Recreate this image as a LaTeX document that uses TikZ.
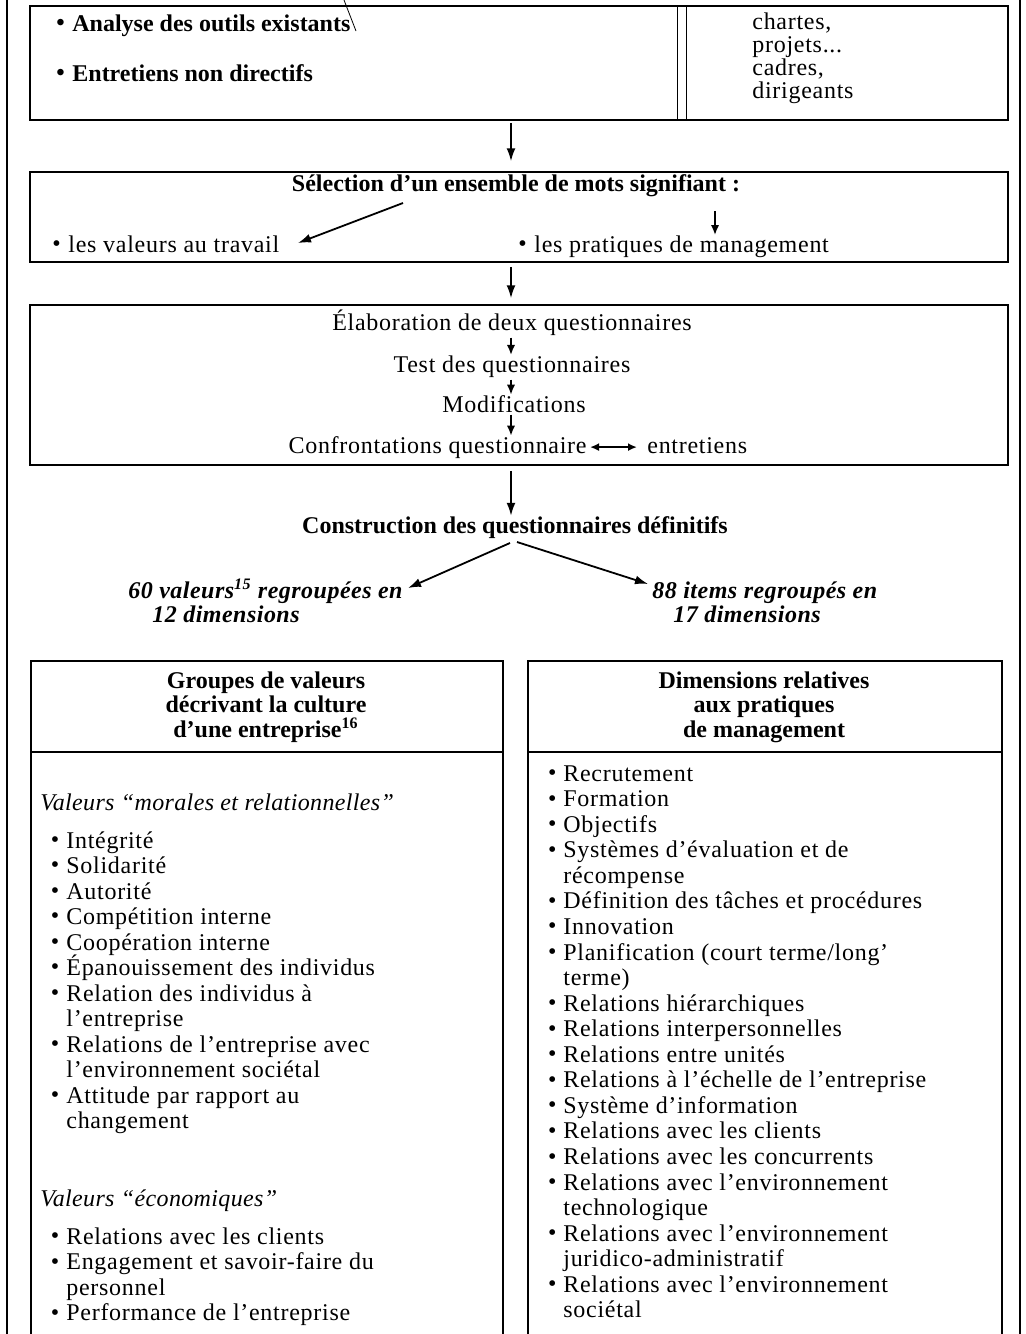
\documentclass[tikz,border=0pt]{standalone}
\usepackage{fontspec}
\setmainfont{Liberation Serif}[LetterSpace=3,BoldFeatures={LetterSpace=0},ItalicFeatures={LetterSpace=1.5},BoldItalicFeatures={LetterSpace=2}]
\usetikzlibrary{arrows.meta,calc}
% bullet used in the lists
\newcommand\bul{\raisebox{0.05ex}{•}}
\newcommand\bi{\makebox[8pt][l]{\bul}}

\tikzset{
  frameline/.style={line width=1pt},
  boxshape/.style={draw, rectangle, line width=0.75pt, inner sep=0pt},
  boxline/.style={line width=0.75pt},
  txt/.style={inner sep=0pt},
  arr/.style={-{Latex[length=6.5pt,width=4.5pt]}, line width=0.9pt},
  sarr/.style={-{Latex[length=5pt,width=4.2pt]}, line width=0.9pt},
  darr/.style={{Latex[length=4.5pt,width=4pt]}-{Latex[length=4.5pt,width=4pt]}, line width=0.9pt},
}

\begin{document}
\begin{tikzpicture}[x=0.5pt,y=-0.5pt,font=\fontsize{12}{12.75}\selectfont]
\useasboundingbox (0,0) rectangle (1026,1334);
\coordinate (cx) at (511,0);

% page frame sides
\draw[frameline] (7,0) -- (7,1334);
\draw[frameline] (1020,0) -- (1020,1334);
\draw[line width=0.4pt] (344,0) -- (356,31);

% ---- step 1: sources
\node[boxshape, minimum width=489pt, minimum height=57pt] (b1) at (519,63) {};
\draw[boxline] ($(b1.north west)+(648,0)$) -- ($(b1.south west)+(648,0)$);
\draw[boxline] ($(b1.north west)+(657,0)$) -- ($(b1.south west)+(657,0)$);
\node[txt, anchor=base west] (an) at (56,31) {\bfseries\bi Analyse des outils existants};
\node[txt, anchor=base west] (en) at (56,81) {\bfseries\bi Entretiens non directifs};
\node[txt, anchor=base west] (s1) at (752,29) {chartes,};
\node[txt, anchor=base west] (s2) at (752,52) {projets...};
\node[txt, anchor=base west] (s3) at (752,75) {cadres,};
\node[txt, anchor=base west] (s4) at (752,98) {dirigeants};

% ---- step 2: selection
\node[boxshape, minimum width=489pt, minimum height=45pt] (b2) at (519,217) {};
\node[txt, anchor=base] (sel) at (516,191) {\bfseries Sélection d'un ensemble de mots signifiant :};
\node[txt, anchor=base west] (val) at (52,252) {\bi les valeurs au travail};
\node[txt, anchor=base west] (pra) at (518,252) {\bi les pratiques de management};
\coordinate (selA) at (403,203);
\coordinate (valT) at (298,243);
\coordinate (selB) at (715,211);
\coordinate (praT) at (715,235);
\draw[arr] (selA) -- (valT);
\draw[sarr] (selB) -- (praT);
\draw[arr] ([yshift=-1pt]b1.south -| cx) -- ([yshift=5pt]b2.north -| cx);

% ---- step 3: questionnaires
\node[boxshape, minimum width=489pt, minimum height=80pt] (b3) at (519,385) {};
\draw[arr] ([yshift=-2pt]b2.south -| cx) -- ([yshift=3pt]b3.north -| cx);
\node[txt, anchor=base] (q1) at (512,330) {Élaboration de deux questionnaires};
\node[txt, anchor=base] (q2) at (512,372) {Test des questionnaires};
\node[txt, anchor=base] (q3) at (514,412) {Modifications};
\node[txt, anchor=base east] (q4) at (587,453) {Confrontations questionnaire};
\node[txt, anchor=base west] (q5) at (647,453) {entretiens};
\draw[sarr] ([yshift=-1pt]q1.south -| cx) -- (q2.north -| cx);
\draw[sarr] ([yshift=-1pt]q2.south -| cx) -- (q3.north -| cx);
\draw[sarr] ([yshift=-1pt]q3.south -| cx) -- (q4.north -| cx);
\draw[darr] ([xshift=1.5pt]q4.east) -- ([xshift=-5pt]q4.east -| q5.west);
\draw[arr] ([yshift=-2.5pt]b3.south -| cx) -- ([yshift=-25pt]b3.south -| cx);

% ---- step 4: final questionnaires
\node[txt, anchor=base] (con) at (515,533) {\bfseries Construction des questionnaires définitifs};
\node[txt, anchor=base east] (il1) at (403,598) {\bfseries\itshape 60 valeurs\textsuperscript{15} regroupées en};
\node[txt, anchor=base west] (il2) at ([xshift=12pt]il1.base west |- 0,622) {\bfseries\itshape 12 dimensions};
\node[txt, anchor=base west] (ir1) at (652,598) {\bfseries\itshape 88 items regroupés en};
\node[txt, anchor=base west] (ir2) at (673,622) {\bfseries\itshape 17 dimensions};
\coordinate (conL) at (510,543);
\coordinate (conR) at (517,542);
\coordinate (ilT) at (408,588);
\coordinate (irT) at (648,584);
\draw[arr] (conL) -- (ilT);
\draw[arr] (conR) -- (irT);

% ---- values box
\node[boxshape, minimum width=236pt, minimum height=345pt, anchor=north west] (lb) at (30,660) {};
\coordinate (dv) at (0,752);
\draw[boxline] (lb.west |- dv) -- (lb.east |- dv);
\node[txt, anchor=base] (lh1) at (266,688) {\bfseries Groupes de valeurs};
\node[txt, anchor=base] (lh2) at (266,712) {\bfseries décrivant la culture};
\node[txt, anchor=base] (lh3) at (266,737) {\bfseries d'une entreprise\textsuperscript{16}};
\node[txt, anchor=base west] (lg1) at (40,810) {\itshape Valeurs ``morales et relationnelles''};
\foreach \b/\t [count=\i from 0] in {1/Intégrité, 1/Solidarité, 1/Autorité, 1/Compétition interne, 1/Coopération interne, 1/Épanouissement des individus, 1/Relation des individus à, 0/l'entreprise, 1/Relations de l'entreprise avec, 0/l'environnement sociétal, 1/Attitude par rapport au, 0/changement}
  \node[txt, anchor=base west] (lv\i) at (66,848+\i*25.5) {\ifnum\b=1\llap{\bul\hspace{3.5pt}}\fi\t};
\node[txt, anchor=base west] (lg2) at (40,1206) {\itshape Valeurs ``économiques''};
\foreach \b/\t [count=\i from 0] in {1/Relations avec les clients, 1/Engagement et savoir-faire du, 0/personnel, 1/Performance de l'entreprise}
  \node[txt, anchor=base west] (le\i) at (66,1244+\i*25.6) {\ifnum\b=1\llap{\bul\hspace{3.5pt}}\fi\t};

% ---- management practices box
\node[boxshape, minimum width=237pt, minimum height=345pt, anchor=north west] (rb) at (527,660) {};
\draw[boxline] (rb.west |- dv) -- (rb.east |- dv);
\node[txt, anchor=base] (rh1) at (764,688) {\bfseries Dimensions relatives};
\node[txt, anchor=base] (rh2) at (764,712) {\bfseries aux pratiques};
\node[txt, anchor=base] (rh3) at (764,737) {\bfseries de management};
\foreach \b/\t [count=\i from 0] in {1/Recrutement, 1/Formation, 1/Objectifs, 1/Systèmes d'évaluation et de, 0/récompense, 1/Définition des tâches et procédures, 1/Innovation, 1/{Planification (court terme/long’}, 0/terme), 1/Relations hiérarchiques, 1/Relations interpersonnelles, 1/Relations entre unités, 1/Relations à l'échelle de l'entreprise, 1/Système d'information, 1/Relations avec les clients, 1/Relations avec les concurrents, 1/Relations avec l'environnement, 0/technologique, 1/Relations avec l'environnement, 0/juridico-administratif, 1/Relations avec l'environnement, 0/sociétal}
  \node[txt, anchor=base west] (rv\i) at (563,781+\i*25.57) {\ifnum\b=1\llap{\bul\hspace{3.5pt}}\fi\t};
\end{tikzpicture}
\end{document}
